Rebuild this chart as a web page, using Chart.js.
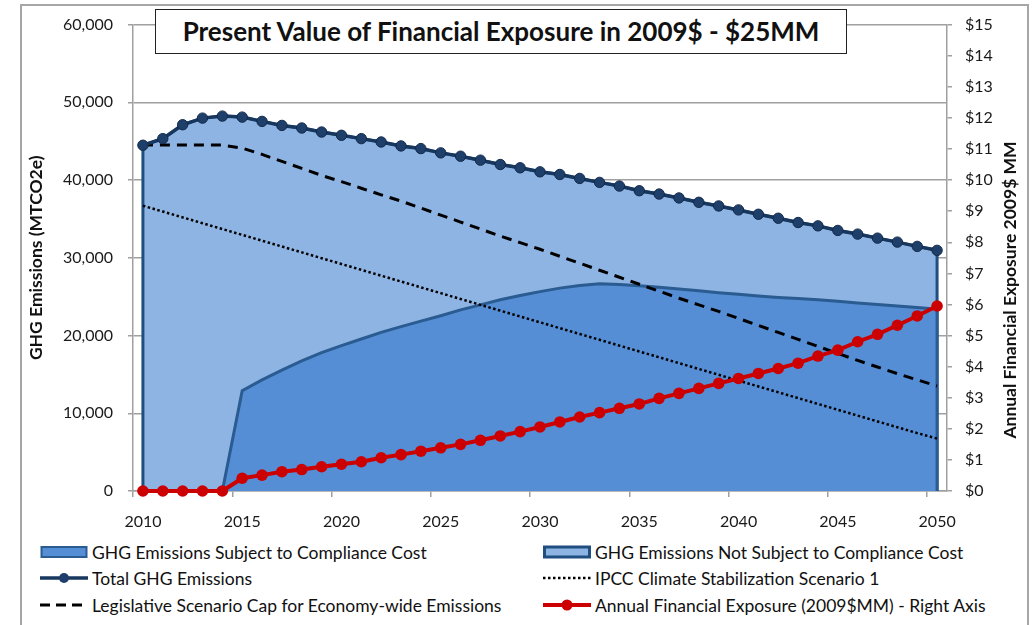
<!DOCTYPE html>
<html>
<head>
<meta charset="utf-8">
<script src="https://cdn.jsdelivr.net/npm/chart.js@4.4.1/dist/chart.umd.min.js"></script>
<style>
  body { margin: 0; width: 1032px; height: 625px; overflow: hidden; background: #fff; position: relative; font-family: Lato, sans-serif; }
  #frame { position: absolute; left: 20px; top: 4px; width: 1005px; height: 700px; border: 2px solid #a6a6a6; border-bottom: none; }
  #wrap { position: absolute; left: 0; top: 0; width: 1032px; height: 540px; }
  #title { position: absolute; left: 155px; top: 9px; width: 690px; height: 43px; border: 1.5px solid #222; background: #fff;
           font: bold 26px Lato, sans-serif; color: #111; text-align: center; line-height: 43px; }
  #rightTitle { position: absolute; left: 811px; top: 278px; width: 400px; height: 24px; line-height: 24px; text-align: center;
                font: bold 17.5px Lato, sans-serif; color: #111; transform: rotate(-90deg); }
  .leg { position: absolute; height: 20px; display: flex; align-items: center; font: 17.5px Lato, sans-serif; color: #111; white-space: nowrap; }
  .leg svg { margin-right: 4px; }
</style>
</head>
<body>
<div id="frame"></div>
<div id="wrap"><canvas id="chart" width="1032" height="540"></canvas></div>
<div id="title">Present Value of Financial Exposure in 2009$ - $25MM</div>
<div id="rightTitle">Annual Financial Exposure 2009$ MM</div>
<div id="legend"></div>

<script>
// years on the category axis, one point per year
const years = [2010, 2011, 2012, 2013, 2014, 2015, 2016, 2017, 2018, 2019,
               2020, 2021, 2022, 2023, 2024, 2025, 2026, 2027, 2028, 2029,
               2030, 2031, 2032, 2033, 2034, 2035, 2036, 2037, 2038, 2039,
               2040, 2041, 2042, 2043, 2044, 2045, 2046, 2047, 2048, 2049, 2050];
const yearLabels = [2010, 2015, 2020, 2025, 2030, 2035, 2040, 2045, 2050];

// MTCO2e, left axis
const totalGhg = [44480, 45330, 47120, 47970, 48230, 48100, 47550, 47030, 46700, 46180,
                  45760, 45330, 44900, 44390, 44050, 43500, 43070, 42560, 42000, 41580,
                  41060, 40720, 40210, 39700, 39230, 38630, 38200, 37700, 37140, 36670,
                  36160, 35600, 35090, 34540, 34110, 33520, 33050, 32530, 32020, 31470, 30960];
const subjectGhg = [0, 0, 0, 0, 0, 12900, 14300, 15550, 16750, 17800,
                    18700, 19550, 20400, 21150, 21850, 22550, 23300, 23950, 24600, 25150,
                    25650, 26100, 26450, 26650, 26550, 26400, 26200, 26000, 25750, 25500,
                    25300, 25100, 24900, 24750, 24600, 24400, 24200, 24000, 23800, 23600, 23400];
const legislativeCap = [44500, 44500, 44500, 44500, 44500, 44100, 43300, 42400, 41500, 40600,
                        39800, 38950, 38100, 37300, 36400, 35500, 34600, 33700, 32800, 31950,
                        31100, 30200, 29300, 28400, 27500, 26600, 25700, 24800, 23950, 23100,
                        22200, 21300, 20400, 19500, 18600, 17700, 16800, 15950, 15100, 14300, 13500];
const ipccScenario = [36700, 35950, 35200, 34450, 33700, 32950, 32200, 31450, 30700, 29950,
                      29200, 28450, 27700, 26950, 26200, 25450, 24700, 23950, 23200, 22450,
                      21700, 20950, 20200, 19450, 18700, 17950, 17200, 16450, 15700, 14950,
                      14200, 13450, 12700, 11950, 11200, 10450, 9700, 8950, 8200, 7450, 6750];

// 2009$ MM, right axis
const exposure = [0, 0, 0, 0, 0, 0.41, 0.51, 0.62, 0.69, 0.78,
                  0.86, 0.94, 1.07, 1.17, 1.28, 1.39, 1.50, 1.63, 1.77, 1.91,
                  2.06, 2.22, 2.38, 2.52, 2.66, 2.80, 2.98, 3.14, 3.30, 3.46,
                  3.62, 3.78, 3.94, 4.11, 4.34, 4.53, 4.80, 5.04, 5.33, 5.63, 5.95];

const seriesNames = [
  'GHG Emissions Subject to Compliance Cost',
  'GHG Emissions Not Subject to Compliance Cost',
  'Total GHG Emissions',
  'IPCC Climate Stabilization Scenario 1',
  'Legislative Scenario Cap for Economy-wide Emissions',
  'Annual Financial Exposure (2009$MM) - Right Axis'
];

const lightBlue = '#8eb4e3';
const midBlue = '#558ed5';
const navy = '#17375e';
const red = '#cc0000';
const gray = '#a0a0a0';

const pts = (vals) => years.map((yr, i) => ({ x: yr, y: vals[i] }));
// area outline closes down to the axis at both ends, like the Excel area chart
const area = (vals) => [{ x: years[0], y: 0 }, ...pts(vals), { x: years[years.length - 1], y: 0 }];

Chart.defaults.font.family = 'Lato, sans-serif';
Chart.defaults.color = '#1a1a1a';

new Chart(document.getElementById('chart'), {
  type: 'line',
  data: {
    datasets: [
      { label: seriesNames[5], data: pts(exposure), yAxisID: 'y1', order: 0, clip: false,
        borderColor: red, borderWidth: 4, pointRadius: 5.8, pointBackgroundColor: red, pointBorderWidth: 0 },
      { label: seriesNames[2], data: pts(totalGhg), yAxisID: 'y', order: 1, clip: false,
        borderColor: navy, borderWidth: 3.5, pointRadius: 5.2, pointBackgroundColor: '#1f3f6b',
        pointBorderColor: '#12294a', pointBorderWidth: 1 },
      { label: seriesNames[4], data: pts(legislativeCap), yAxisID: 'y', order: 2,
        borderColor: '#000', borderWidth: 3, borderDash: [10, 7], pointRadius: 0 },
      { label: seriesNames[3], data: pts(ipccScenario), yAxisID: 'y', order: 3,
        borderColor: '#000', borderWidth: 2.5, borderDash: [2.5, 2.5], pointRadius: 0 },
      { label: seriesNames[0], data: area(subjectGhg), yAxisID: 'y', order: 4, fill: 'origin',
        backgroundColor: midBlue, borderColor: '#2a5b91', borderWidth: 3, pointRadius: 0 },
      { label: seriesNames[1], data: area(totalGhg), yAxisID: 'y', order: 5, fill: 'origin',
        backgroundColor: lightBlue, borderColor: '#1f4e80', borderWidth: 3, pointRadius: 0 }
    ]
  },
  options: {
    responsive: false,
    devicePixelRatio: 1,
    animation: false,
    layout: { padding: { top: 22, left: 0, right: 0, bottom: 0 } },
    elements: { line: { tension: 0 } },
    plugins: { legend: { display: false }, tooltip: { enabled: false } },
    scales: {
      x: {
        type: 'linear', min: 2009.5, max: 2050.5,
        afterBuildTicks: (s) => { s.ticks = yearLabels.map(v => ({ value: v - 0.5 })); },
        afterFit: (s) => { s.height = 49; },
        ticks: { callback: (v) => String(v + 0.5), labelOffset: 10, autoSkip: false, maxRotation: 0,
                 font: { size: 16 }, padding: 15 },
        grid: { drawOnChartArea: false, drawTicks: true, tickLength: 6, color: gray, lineWidth: 1.5 },
        border: { color: gray, width: 1.5 }
      },
      y: {
        position: 'left', min: 0, max: 60000,
        afterFit: (s) => { s.width = 133; },
        ticks: { stepSize: 10000, callback: (v) => v.toLocaleString('en-US'), font: { size: 16 }, padding: 15 },
        grid: { color: gray, lineWidth: 1.5, tickLength: 5 },
        border: { color: gray, width: 1.5 },
        title: { display: true, text: 'GHG Emissions (MTCO2e)', color: '#111',
                 font: { size: 17.5, weight: 'bold' }, padding: { top: 26, bottom: 0 } }
      },
      y1: {
        position: 'right', min: 0, max: 15,
        afterFit: (s) => { s.width = 85; },
        ticks: { stepSize: 1, callback: (v) => '$' + v, font: { size: 16 }, padding: 13 },
        grid: { drawOnChartArea: false, color: gray, lineWidth: 1.5, tickLength: 5 },
        border: { color: gray, width: 1.5 }
      }
    }
  }
});

// legend laid out in two columns like the original
const swatches = {
  subject: `<rect x="1.5" y="2" width="45" height="10" fill="${midBlue}" stroke="#2a5b91" stroke-width="2"/>`,
  notSubject: `<rect x="1.5" y="2" width="45" height="10" fill="${lightBlue}" stroke="#1f4e80" stroke-width="3"/>`,
  total: `<line x1="0" y1="7" x2="48" y2="7" stroke="${navy}" stroke-width="3.5"/><circle cx="24" cy="7" r="5" fill="#1f3f6b"/>`,
  ipcc: `<line x1="0" y1="7" x2="48" y2="7" stroke="#000" stroke-width="2.5" stroke-dasharray="2.5 2.5"/>`,
  legislative: `<line x1="0" y1="7" x2="48" y2="7" stroke="#000" stroke-width="3" stroke-dasharray="10 6"/>`,
  exposure: `<line x1="0" y1="7" x2="48" y2="7" stroke="${red}" stroke-width="4"/><circle cx="24" cy="7" r="5.5" fill="${red}"/>`
};
const legendItems = [
  ['subject', 0, 40, 542], ['notSubject', 1, 543, 542],
  ['total', 2, 40, 568], ['ipcc', 3, 543, 568],
  ['legislative', 4, 40, 595], ['exposure', 5, 543, 595]
];
const legendEl = document.getElementById('legend');
legendItems.forEach(([key, idx, left, top]) => {
  const d = document.createElement('div');
  d.className = 'leg';
  d.style.left = left + 'px';
  d.style.top = top + 'px';
  d.innerHTML = `<svg width="48" height="14">${swatches[key]}</svg><span>${seriesNames[idx]}</span>`;
  legendEl.appendChild(d);
});
</script>
</body>
</html>
